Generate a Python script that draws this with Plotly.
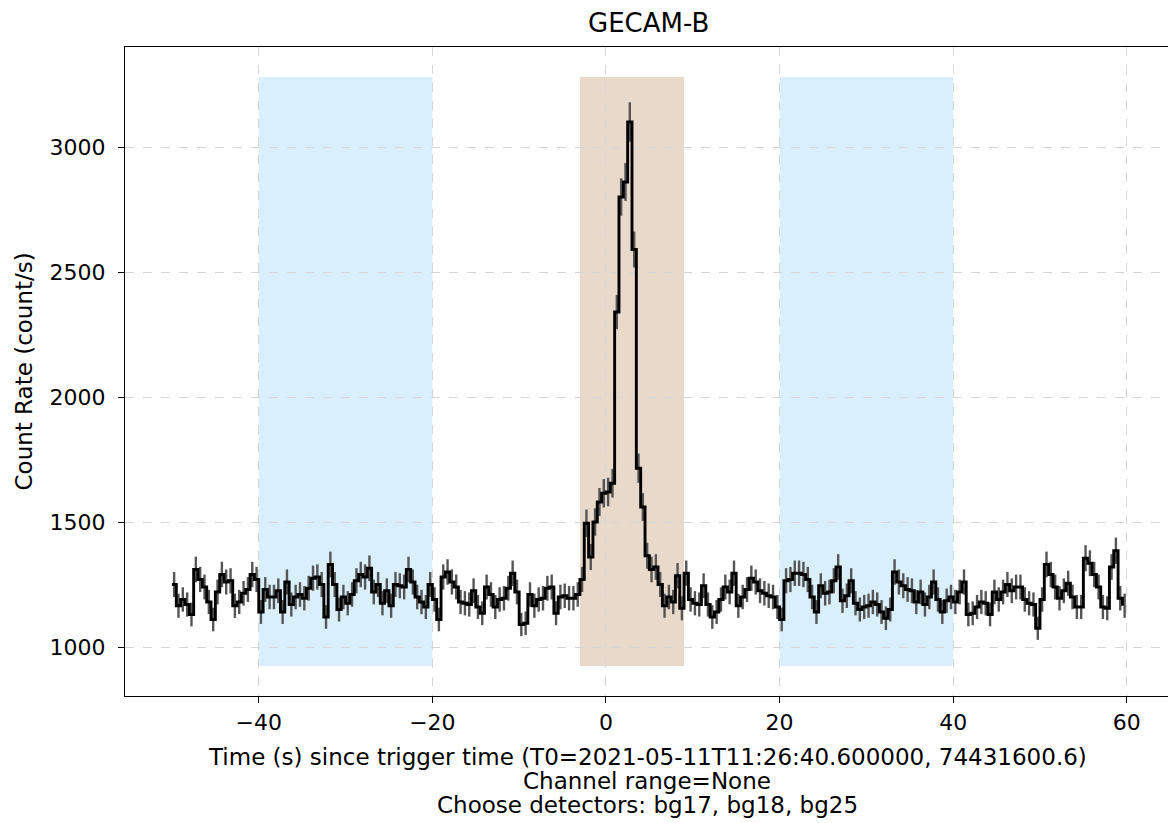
import numpy as np
import plotly.graph_objects as go

# ---- data ----
bin_width = 0.5
t_start = -50.0
rates = [
    1250, 1165, 1190, 1170, 1130, 1310, 1270, 1240, 1180, 1110,
    1220, 1290, 1260, 1265, 1165, 1180, 1215, 1230, 1290, 1270,
    1140, 1230, 1200, 1200, 1225, 1140, 1260, 1170, 1200, 1210,
    1195, 1235, 1275, 1280, 1250, 1120, 1330, 1250, 1150, 1200,
    1175, 1210, 1265, 1290, 1280, 1315, 1220, 1250, 1175, 1225,
    1165, 1250, 1245, 1240, 1310, 1260, 1200, 1180, 1160, 1250,
    1190, 1110, 1280, 1300, 1260, 1240, 1180, 1175, 1170, 1225,
    1160, 1135, 1240, 1210, 1160, 1190, 1195, 1235, 1295, 1220,
    1090, 1095, 1210, 1165, 1190, 1195, 1235, 1240, 1135, 1200,
    1205, 1195, 1195, 1210, 1270, 1495, 1360, 1500, 1580, 1615,
    1620, 1655, 2340, 2800, 2860, 3100, 2590, 1715, 1560, 1365,
    1310, 1320, 1250, 1165, 1200, 1180, 1285, 1155, 1295, 1190,
    1175, 1170, 1245, 1170, 1120, 1140, 1190, 1240, 1220, 1295,
    1165, 1200, 1230, 1275, 1260, 1225, 1215, 1205, 1200, 1160,
    1110, 1265, 1270, 1295, 1295, 1290, 1270, 1200, 1140, 1245,
    1215, 1220, 1265, 1320, 1185, 1205, 1265, 1175, 1150, 1160,
    1165, 1180, 1170, 1140, 1115, 1150, 1300, 1260, 1245, 1230,
    1225, 1180, 1220, 1170, 1200, 1260, 1190, 1140, 1185, 1200,
    1180, 1220, 1260, 1130, 1135, 1160, 1180, 1175, 1130, 1220,
    1190, 1220, 1250, 1225, 1240, 1240, 1190, 1175, 1170, 1075,
    1190, 1330, 1290, 1240, 1195, 1225, 1255, 1200, 1160, 1160,
    1355, 1335, 1290, 1240, 1160, 1155, 1320, 1385, 1195, 1165,
]
bkg_intervals = [(-40, -20), (20, 40)]
src_interval = (-3, 9)
shade_y = (924, 3280)
x_ticks = [-40, -20, 0, 20, 40, 60]
x_tick_text = ["\u221240", "\u221220", "0", "20", "40", "60"]
y_ticks = [1000, 1500, 2000, 2500, 3000]

title = "GECAM-B"
xlabel_lines = [
    "Time (s) since trigger time (T0=2021-05-11T11:26:40.600000, 74431600.6)",
    "Channel range=None",
    "Choose detectors: bg17, bg18, bg25",
]
ylabel = "Count Rate (count/s)"

# ---- derived ----
rates = np.array(rates, dtype=float)
edges = t_start + bin_width * np.arange(len(rates))
centers = edges + bin_width / 2
errors = np.sqrt(rates * bin_width) / bin_width  # Poisson uncertainty of each bin

FONT = "DejaVu Sans"
W, H = 1168, 823
L, T, B = 125, 47, 127

fig = go.Figure()
fig.add_trace(go.Scatter(
    x=centers, y=rates, mode="markers",
    marker=dict(size=1, color="rgba(0,0,0,0)"),
    error_y=dict(type="data", array=errors, color="#555555", thickness=2.4, width=0),
    hoverinfo="skip", showlegend=False,
))
fig.add_trace(go.Scatter(
    x=edges, y=rates, mode="lines",
    line=dict(shape="hv", color="black", width=2.9),
    showlegend=False,
))

for (a, b) in bkg_intervals:
    fig.add_shape(type="rect", xref="x", yref="y", x0=a, x1=b, y0=shade_y[0], y1=shade_y[1],
                  fillcolor="#d9effb", line=dict(width=0), layer="below")
fig.add_shape(type="rect", xref="x", yref="y", x0=src_interval[0], x1=src_interval[1],
              y0=shade_y[0], y1=shade_y[1], fillcolor="#e9d9cb", line=dict(width=0), layer="below")

plot_w = W - L
plot_h = H - T - B

def px_to_paper_x(px):
    return (px - L) / plot_w

def px_to_paper_y(py):
    return (H - B - py) / plot_h

fig.add_annotation(text=title, x=px_to_paper_x(648), y=px_to_paper_y(23), xref="paper", yref="paper",
                   showarrow=False, xanchor="center", yanchor="middle",
                   font=dict(family=FONT, size=26, color="black"))
for line, py in zip(xlabel_lines, [757, 781, 805]):
    fig.add_annotation(text=line, x=px_to_paper_x(647), y=px_to_paper_y(py), xref="paper", yref="paper",
                       showarrow=False, xanchor="center", yanchor="middle",
                       font=dict(family=FONT, size=23, color="black"))
fig.add_annotation(text=ylabel, x=px_to_paper_x(23), y=0.5, xref="paper", yref="paper",
                   showarrow=False, xanchor="center", yanchor="middle", textangle=-90,
                   font=dict(family=FONT, size=23, color="black"))

fig.update_layout(
    width=W, height=H,
    margin=dict(l=L, r=0, t=T, b=B),
    paper_bgcolor="white", plot_bgcolor="white",
    font=dict(family=FONT, size=22, color="black"),
    showlegend=False,
)
fig.update_xaxes(
    range=[-55.41, 64.75], tickvals=x_ticks, ticktext=x_tick_text,
    showline=True, linecolor="black", linewidth=1.2, mirror=True,
    ticks="outside", ticklen=6, tickwidth=1.2, tickcolor="black",
    showgrid=True, gridcolor="#d6d6d6", griddash="dash", gridwidth=1, zeroline=False,
    tickfont=dict(family=FONT, size=22, color="black"),
)
fig.update_yaxes(
    range=[804, 3400], tickvals=y_ticks,
    showline=True, linecolor="black", linewidth=1.2, mirror=False,
    ticks="outside", ticklen=6, tickwidth=1.2, tickcolor="black",
    ticklabelstandoff=8,
    showgrid=True, gridcolor="#d6d6d6", griddash="dash", gridwidth=1, zeroline=False,
    tickfont=dict(family=FONT, size=22, color="black"),
)

fig.write_html("out.html")
